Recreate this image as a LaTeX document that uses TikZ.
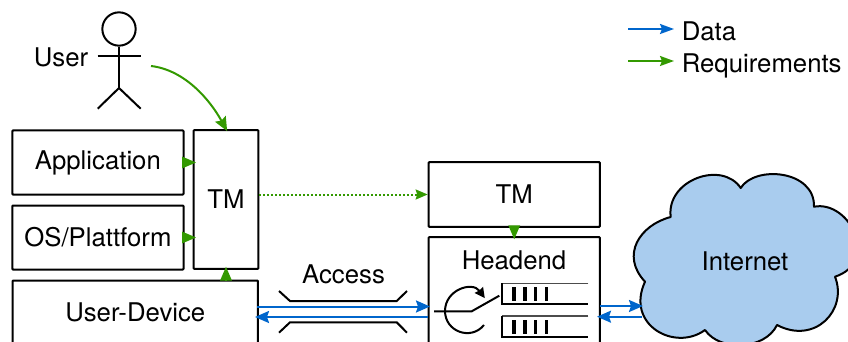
\documentclass[tikz,border=0pt]{standalone}
\usepackage{fontspec}
\setmainfont{TeX Gyre Heros}
\usetikzlibrary{arrows.meta}
\definecolor{datablue}{HTML}{0066CC}
\definecolor{reqgreen}{HTML}{339900}
\definecolor{cloudblue}{HTML}{A9CCEE}
\tikzset{
  blk/.style={draw=black,line width=1.5pt,rounded corners=0.6pt,inner sep=0pt,fill=white,font=\fontsize{19.3}{22}\selectfont},
  lbl/.style={inner sep=0pt,font=\fontsize{19.3}{22}\selectfont},
  thick line/.style={line width=1.5pt,draw=black},
  dataarrow/.style={line width=1.5pt,draw=datablue,-{Stealth[length=10.5pt,width=9pt,inset=1.5pt]},color=datablue},
  reqarrow/.style={line width=1.5pt,draw=reqgreen,-{Stealth[length=10.5pt,width=9pt,inset=1.5pt]},color=reqgreen,shorten >=-1.8pt},
  legenddata/.style={line width=1.5pt,draw=datablue,-{Stealth[length=10.5pt,width=7.5pt,inset=1.5pt]},color=datablue},
  legendreq/.style={line width=1.5pt,draw=reqgreen,-{Stealth[length=10.5pt,width=7.5pt,inset=1.5pt]},color=reqgreen},
  reqstub/.style={draw=reqgreen,line width=1.5pt,-{Triangle[length=10.5pt,width=8.5pt]},color=reqgreen,shorten >=-2.5pt},
  dottedreq/.style={draw=reqgreen,line width=1.5pt,color=reqgreen},
  slot/.style={fill=black,draw=none,minimum width=2.6pt,minimum height=10.3pt,inner sep=0pt},
  rackedge/.style={line width=1.2pt,draw=black!70},
  rackdark/.style={line width=1.5pt,draw=black},
}
\begin{document}
\begin{tikzpicture}[x=.75pt,y=-.75pt]
\clip (0,0) rectangle (848,342);
% cloud
\draw[line width=1.5pt,fill=cloudblue,draw=black,line join=round]
  (670.7,217) .. controls (666,180) and (722,160) .. (740.7,188)
  .. controls (755,165) and (815,170) .. (814,206.7)
  .. controls (850,200) and (880,262) .. (835,276.7)
  .. controls (848,310) and (815,345) .. (777,325)
  .. controls (765,350) and (720,352) .. (705,330)
  .. controls (675,352) and (625,325) .. (645,281.7)
  .. controls (620,255) and (640,225) .. (670.7,217) -- cycle;
\node[lbl] (internet) at (745,261) {Internet};
% actor
\node[circle,draw=black,line width=1.5pt,minimum size=25pt,inner sep=0pt] (head) at (119,29) {};
\coordinate (hip) at (119,88);
\coordinate (armL) at (97.7,55.7);
\coordinate (armR) at (140.7,55.7);
\coordinate (legL) at (97.7,108.7);
\coordinate (legR) at (140.7,108.7);
\draw[thick line] (head.south) -- (hip);
\draw[thick line] (armL) -- (armR);
\draw[thick line] (legL) -- (hip) -- (legR);
\node[lbl] (user) at (61,57.5) {User};
\coordinate (userout) at (151,66);
% boxes
\node[blk,minimum width=128.4pt,minimum height=48pt] (app) at (97.9,162.5) {Application};
\node[blk,minimum width=128.4pt,minimum height=48pt] (os) at (97.9,237.5) {OS/Plattform};
\node[blk,minimum width=184pt,minimum height=48pt] (dev) at (135.25,312.5) {User-Device};
\node[blk,minimum width=48.4pt,minimum height=104.2pt] (tml) at (226,199.5) {TM};
\node[blk,minimum width=128.4pt,minimum height=48.5pt] (tmr) at (514.25,194.5) {TM};
\node[blk,minimum width=128.4pt,minimum height=90pt] (head end) at (514.25,297) {};
\node[lbl] (headlabel) at (514,260.5) {Headend};
% requirement arrows
\draw[reqarrow] (userout) .. controls (185,70) and (210,100) .. (tml.north);
\draw[reqstub] (app.east) -- (app.east -| tml.west);
\draw[reqstub] (os.east) -- (os.east -| tml.west);
\draw[reqstub] (tml.south |- dev.north) -- (tml.south);
\draw[reqstub] (tmr.south) -- (head end.north);
\draw[dottedreq,-{Stealth[length=9pt,width=7.5pt,inset=1.2pt]},dash pattern=on 1.6pt off 1.4pt] (tml.east |- tmr.west) -- (tmr.west);
% access channel
\coordinate (a1) at (279,291);
\coordinate (a2) at (290,301);
\coordinate (a3) at (396.7,301);
\coordinate (a4) at (407,291);
\coordinate (b1) at (279,332.7);
\coordinate (b2) at (290,322.3);
\coordinate (b3) at (396.7,322.3);
\coordinate (b4) at (407,332.7);
\draw[thick line] (a1) -- (a2) -- (a3) -- (a4);
\draw[thick line] (b1) -- (b2) -- (b3) -- (b4);
\node[lbl] (access) at (343.5,274.5) {Access};
% data arrows
\coordinate (devtop) at (257,306.5);
\coordinate (headtop) at (430,306.5);
\coordinate (devbot) at (255,317);
\coordinate (headbot) at (428,317);
\coordinate (hrtop) at (600,306);
\coordinate (crtop) at (643,306);
\coordinate (hrbot) at (597,316.7);
\coordinate (crbot) at (641.7,316.7);
\draw[dataarrow] (devtop) -- (headtop);
\draw[dataarrow] (headbot) -- (devbot);
\draw[dataarrow] (hrtop) -- (crtop);
\draw[dataarrow] (crbot) -- (hrbot);
% switch
\coordinate (swa) at (434,311.3);
\coordinate (swb) at (471.7,311.3);
\coordinate (swc) at (499.3,295.7);
\draw[thick line] (swa) -- (swb) -- (swc);
\draw[line width=1.5pt,draw=black,-{Stealth[length=7.5pt,width=7.5pt,inset=0.5pt]}]
  (484,325) .. controls (471,341) and (445,331.7) .. (445,311)
  .. controls (445,289.7) and (472.3,280.9) .. (484.8,298.1);
% rack ports
\coordinate (r1a) at (588.3,283.3);
\coordinate (r1b) at (502,283.3);
\coordinate (r1c) at (502,304);
\coordinate (r1d) at (588.3,304);
\coordinate (r2a) at (588.3,316);
\coordinate (r2b) at (502,316);
\coordinate (r2c) at (502,336.5);
\coordinate (r2d) at (588.3,336.5);
\draw[rackedge] (r1a) -- (r1b);
\draw[rackdark] (r1b) -- (r1c) -- (r1d);
\draw[rackedge] (r2a) -- (r2b);
\draw[rackdark] (r2b) -- (r2c) -- (r2d);
\node[slot] (s11) at (514,294) {};
\node[slot] (s12) at (525,294) {};
\node[slot] (s13) at (535.7,294) {};
\node[slot] (s14) at (546.3,294) {};
\node[slot] (s21) at (514,326.8) {};
\node[slot] (s22) at (525,326.8) {};
\node[slot] (s23) at (535.7,326.8) {};
\node[slot] (s24) at (546.3,326.8) {};
% legend
\coordinate (lgd1) at (628,29);
\coordinate (lgd2) at (674,29);
\coordinate (lgr1) at (628,61);
\coordinate (lgr2) at (674,61);
\draw[legenddata] (lgd1) -- (lgd2);
\draw[legendreq] (lgr1) -- (lgr2);
\node[lbl,anchor=west] (ldata) at (681.5,31.5) {Data};
\node[lbl,anchor=west] (lreq) at (681.5,66) {Requirements};
\end{tikzpicture}
\end{document}
